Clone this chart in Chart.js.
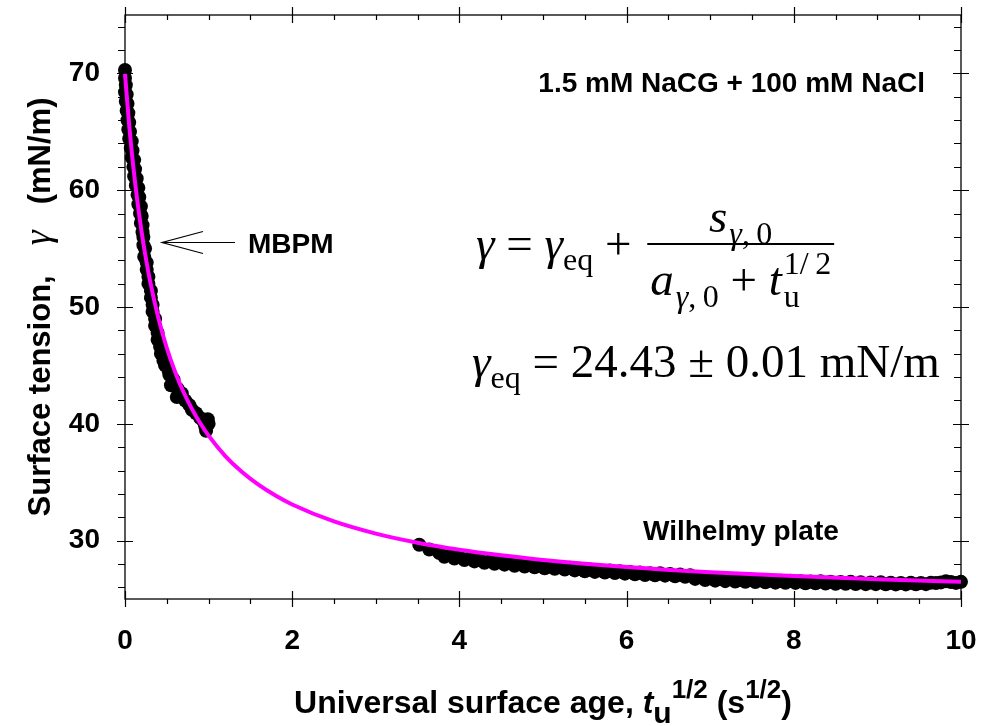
<!DOCTYPE html>
<html>
<head>
<meta charset="utf-8">
<script src="https://cdn.jsdelivr.net/npm/chart.js@4.4.1/dist/chart.umd.min.js"></script>
<style>
  html, body { margin: 0; padding: 0; background: #fff; }
  canvas { display: block; }
</style>
</head>
<body>
<canvas id="chart" width="992" height="726"></canvas>
<script>
// Axis ranges and tick labels
const X_MIN = 0, X_MAX = 10, X_MINOR = 0.5;
const Y_MIN = 25, Y_MAX = 75, Y_MINOR = 2;
const X_TICKS = [0, 2, 4, 6, 8, 10];
const Y_TICKS = [30, 40, 50, 60, 70];

// Maximum bubble pressure method (short ages)
const MBPM_X = [0.00, 0.00, 0.01, 0.00, 0.02, 0.01, 0.03, 0.02, 0.04, 0.03, 0.05, 0.04, 0.06,
  0.05, 0.08, 0.07, 0.09, 0.08, 0.11, 0.10, 0.12, 0.11, 0.14, 0.13, 0.16, 0.15, 0.17, 0.16, 0.19,
  0.18, 0.20, 0.19, 0.21, 0.21, 0.22, 0.22, 0.24, 0.23, 0.26, 0.26, 0.28, 0.28, 0.31, 0.31, 0.33,
  0.33, 0.36, 0.36, 0.39, 0.39, 0.42, 0.43, 0.46, 0.48, 0.52, 0.53, 0.58, 0.55, 0.63, 0.68, 0.62,
  0.72, 0.77, 0.80, 0.85, 0.90, 0.94, 0.96, 0.97, 0.99, 1.00];
const MBPM_Y = [70.3, 69.6, 69.0, 68.4, 68.2, 67.6, 67.4, 66.8, 66.6, 66.0, 65.8, 65.2, 65.0,
  64.4, 64.2, 63.6, 63.4, 62.8, 62.6, 62.0, 61.8, 61.2, 61.0, 60.4, 60.2, 59.6, 59.4, 58.8, 58.6,
  58.0, 57.8, 57.2, 57.0, 56.4, 56.0, 55.3, 55.0, 54.3, 53.8, 53.2, 52.6, 52.0, 51.4, 50.8, 50.2,
  49.6, 49.0, 48.4, 47.8, 47.2, 46.6, 46.0, 45.4, 45.0, 44.6, 44.2, 43.8, 43.3, 43.0, 42.6, 42.3,
  42.0, 41.6, 41.2, 40.9, 40.5, 40.2, 39.8, 39.4, 40.4, 40.0];

// Wilhelmy plate (long ages)
const WILHELMY_X = [3.52, 3.64, 3.76, 3.88, 4.00, 4.12, 4.24, 4.36, 4.48, 4.60, 4.72, 4.84, 4.96,
  5.08, 5.20, 5.32, 5.44, 5.56, 5.68, 5.80, 5.92, 6.04, 6.16, 6.28, 6.40, 6.52, 6.64, 6.76, 6.88,
  7.00, 7.12, 7.24, 7.36, 7.48, 7.60, 7.72, 7.84, 7.96, 8.08, 8.20, 8.32, 8.44, 8.56, 8.68, 8.80,
  8.92, 9.04, 9.16, 9.28, 9.40, 9.52, 9.64, 9.70, 9.76, 9.82, 9.88, 9.94, 10.00,
  3.82, 3.94, 4.06, 4.18, 4.30, 4.42, 4.54, 4.66, 4.78, 4.90, 5.02, 5.14, 5.26, 5.38, 5.50, 5.62,
  5.74, 5.86, 5.98, 6.10, 6.22, 6.34, 6.46, 6.58, 6.70, 6.82, 6.94, 7.06, 7.18, 7.30, 7.42, 7.54,
  7.66, 7.78, 7.90, 8.02, 8.14, 8.26, 8.38, 8.50, 8.62, 8.74, 8.86, 8.98, 9.10, 9.22, 9.34, 9.46,
  9.58];
const WILHELMY_Y = [29.64, 29.24, 28.94, 28.75, 28.62, 28.49, 28.37, 28.26, 28.20, 28.10, 28.00,
  27.96, 27.87, 27.79, 27.75, 27.68, 27.60, 27.53, 27.46, 27.44, 27.38, 27.32, 27.26, 27.20, 27.20,
  27.14, 27.09, 27.04, 26.89, 26.80, 26.75, 26.71, 26.66, 26.67, 26.63, 26.59, 26.56, 26.57, 26.53,
  26.50, 26.51, 26.48, 26.45, 26.47, 26.44, 26.41, 26.43, 26.40, 26.38, 26.40, 26.38, 26.40, 26.36,
  26.42, 26.52, 26.45, 26.38, 26.47,
  28.62, 28.47, 28.33, 28.22, 28.10, 28.02, 27.94, 27.85, 27.78, 27.71, 27.63, 27.58, 27.52, 27.45,
  27.38, 27.32, 27.27, 27.23, 27.17, 27.12, 27.06, 27.03, 27.00, 26.95, 26.90, 26.72, 26.62, 26.57,
  26.53, 26.49, 26.47, 26.46, 26.43, 26.40, 26.39, 26.38, 26.35, 26.34, 26.33, 26.30, 26.30, 26.29,
  26.27, 26.27, 26.26, 26.25, 26.25, 26.26, 26.27];

// Fitted curve gamma(t_u^1/2)
const FIT_X = [0, 0.05, 0.1, 0.15, 0.2, 0.25, 0.3, 0.4, 0.5, 0.6, 0.7, 0.8, 0.9, 1.0, 1.2, 1.4,
  1.6, 1.8, 2.0, 2.5, 3.0, 3.5, 4.0, 4.5, 5.0, 6.0, 7.0, 8.0, 9.0, 10.0];
const FIT_Y = [69.96, 65.58, 61.97, 58.95, 56.37, 54.15, 52.22, 49.03, 46.49, 44.43, 42.72, 41.28,
  40.05, 38.99, 37.24, 35.87, 34.77, 33.86, 33.09, 31.64, 30.60, 29.82, 29.22, 28.74, 28.34, 27.74,
  27.29, 26.96, 26.69, 26.47];

const SANS = "'Liberation Sans', Arial, Helvetica, sans-serif";
const SERIF = "'Liberation Serif', 'Times New Roman', Times, serif";

const zip = (xs, ys) => xs.map((x, i) => ({ x, y: ys[i] }));

// Draws a sequence of text pieces, each with its own font and vertical shift
function drawRuns(ctx, runs, x, y, measureOnly) {
  let cx = x;
  for (const r of runs) {
    ctx.font = r.font;
    if (r.gap) { cx += r.gap; continue; }
    if (!measureOnly) ctx.fillText(r.text, cx, y + (r.dy || 0));
    cx += ctx.measureText(r.text).width;
  }
  return cx - x;
}

const whiteBackground = {
  id: 'whiteBackground',
  beforeDraw(chart) {
    const { ctx, width, height } = chart;
    ctx.save();
    ctx.fillStyle = '#fff';
    ctx.fillRect(0, 0, width, height);
    ctx.restore();
  }
};

// Box frame with major ticks crossing the axes and minor ticks
const frameAndTicks = {
  id: 'frameAndTicks',
  beforeDatasetsDraw(chart) {
    const { ctx, chartArea: a, scales: { x, y } } = chart;
    ctx.save();
    ctx.strokeStyle = '#000';
    ctx.lineWidth = 1.3;
    ctx.strokeRect(a.left, a.top, a.right - a.left, a.bottom - a.top);
    ctx.lineWidth = 1.2;
    ctx.beginPath();
    const nx = Math.round((X_MAX - X_MIN) / X_MINOR);
    for (let k = 0; k <= nx; k++) {
      const v = X_MIN + k * X_MINOR;
      const px = Math.round(x.getPixelForValue(v)) + 0.5;
      const major = X_TICKS.some(t => Math.abs(t - v) < 1e-9);
      if (major) {
        ctx.moveTo(px, a.bottom - 8); ctx.lineTo(px, a.bottom + 8);
        ctx.moveTo(px, a.top - 8); ctx.lineTo(px, a.top + 8);
      } else {
        ctx.moveTo(px, a.bottom); ctx.lineTo(px, a.bottom + 5);
        ctx.moveTo(px, a.top); ctx.lineTo(px, a.top + 5);
      }
    }
    for (let v = Y_MIN + 1; v < Y_MAX; v += Y_MINOR) {
      if (Y_TICKS.includes(v)) continue;
      const py = Math.round(y.getPixelForValue(v)) + 0.5;
      ctx.moveTo(a.left - 7, py); ctx.lineTo(a.left, py);
      ctx.moveTo(a.right - 7, py); ctx.lineTo(a.right, py);
    }
    for (const v of Y_TICKS) {
      const py = Math.round(y.getPixelForValue(v)) + 0.5;
      ctx.moveTo(a.left - 8, py); ctx.lineTo(a.left + 8, py);
      ctx.moveTo(a.right - 8, py); ctx.lineTo(a.right + 8, py);
    }
    ctx.stroke();
    ctx.restore();
  }
};

// Axis titles, annotations and the fitted equation
const annotations = {
  id: 'annotations',
  afterDraw(chart) {
    const { ctx, chartArea: a } = chart;
    ctx.save();
    ctx.fillStyle = '#000';
    ctx.textBaseline = 'alphabetic';
    ctx.textAlign = 'left';

    // x-axis title
    const xt = [
      { text: 'Universal surface age, ', font: `bold 32px ${SANS}` },
      { text: 't', font: `italic bold 32px ${SANS}` },
      { text: 'u', font: `bold 30px ${SANS}`, dy: 10 },
      { text: '1/2', font: `bold 26px ${SANS}`, dy: -15 },
      { text: ' (s', font: `bold 32px ${SANS}` },
      { text: '1/2', font: `bold 26px ${SANS}`, dy: -15 },
      { text: ')', font: `bold 32px ${SANS}` }
    ];
    const xcx = (a.left + a.right) / 2;
    const xw = drawRuns(ctx, xt, 0, 0, true);
    drawRuns(ctx, xt, xcx - xw / 2, 713);

    // y-axis title (rotated)
    const yt = [
      { text: 'Surface tension,', font: `bold 31px ${SANS}` },
      { gap: 30, font: `bold 31px ${SANS}` },
      { text: 'γ', font: `italic 38px ${SERIF}` },
      { gap: 26, font: `bold 31px ${SANS}` },
      { text: '(mN/m)', font: `bold 31px ${SANS}` }
    ];
    const ycy = (a.top + a.bottom) / 2;
    const yw = drawRuns(ctx, yt, 0, 0, true);
    ctx.save();
    ctx.translate(50, ycy);
    ctx.rotate(-Math.PI / 2);
    drawRuns(ctx, yt, -yw / 2, 0);
    ctx.restore();

    // Annotations
    ctx.font = `bold 28px ${SANS}`;
    ctx.textAlign = 'right';
    ctx.fillText('1.5 mM NaCG + 100 mM NaCl', 925, 92);
    ctx.textAlign = 'left';
    ctx.fillText('MBPM', 248, 253);
    ctx.fillText('Wilhelmy plate', 643, 540);

    // Open arrow pointing at the MBPM data
    ctx.strokeStyle = '#000';
    ctx.lineWidth = 1.2;
    ctx.beginPath();
    ctx.moveTo(235, 242.5); ctx.lineTo(162, 242.5);
    ctx.moveTo(203, 231.5); ctx.lineTo(162, 242.5); ctx.lineTo(203, 253.5);
    ctx.stroke();

    // Equation, line 1: gamma = gamma_eq + s/(a + t^1/2)
    const M = 47, S = 32;
    const fMain = `${M}px ${SERIF}`, fIt = `italic ${M}px ${SERIF}`;
    const fSub = `${S}px ${SERIF}`, fSubIt = `italic ${S}px ${SERIF}`;
    const base1 = 259;
    let ex = 476;
    ex += drawRuns(ctx, [
      { text: 'γ', font: fIt },
      { text: ' = ', font: fMain },
      { text: 'γ', font: fIt },
      { text: 'eq', font: fSub, dy: 11 },
      { text: ' + ', font: fMain }
    ], ex, base1);
    const den = [
      { text: 'a', font: fIt },
      { gap: 2, font: fSub },
      { text: 'γ', font: fSubIt, dy: 12 },
      { text: ',\u20090', font: fSub, dy: 12 },
      { text: ' + ', font: fMain },
      { text: 't', font: fIt },
      { gap: 2, font: fSub },
      { text: '1/\u20092', font: fSub, dy: -21 }
    ];
    const num = [
      { text: 's', font: fIt },
      { gap: 2, font: fSub },
      { text: 'γ', font: fSubIt, dy: 12 },
      { text: ',\u20090', font: fSub, dy: 12 }
    ];
    const barX = ex + 4;
    const dw = drawRuns(ctx, den, 0, 0, true);
    const barW = dw + 6;
    const barY = 244;
    ctx.fillRect(barX, barY - 1, barW, 2);
    const nw = drawRuns(ctx, num, 0, 0, true);
    drawRuns(ctx, num, barX + (barW - nw) / 2, barY - 12);
    const denX = barX + 3;
    const denBase = barY + 51;
    drawRuns(ctx, den, denX, denBase);
    // subscript u under the exponent of t
    const preT = drawRuns(ctx, den.slice(0, 7), 0, 0, true);
    ctx.font = fSub;
    ctx.fillText('u', denX + preT, denBase + 12);

    // Equation, line 2: equilibrium value
    drawRuns(ctx, [
      { text: 'γ', font: fIt },
      { text: 'eq', font: fSub, dy: 11 },
      { text: ' = 24.43 ± 0.01 mN/m', font: fMain }
    ], 472, 377);

    ctx.restore();
  }
};

const tickFont = { family: SANS, weight: 'bold', size: 28 };

new Chart(document.getElementById('chart'), {
  type: 'scatter',
  data: {
    datasets: [
      {
        label: 'Fit',
        type: 'line',
        data: zip(FIT_X, FIT_Y),
        borderColor: '#ff00ff',
        borderWidth: 4,
        pointRadius: 0,
        cubicInterpolationMode: 'monotone',
        fill: false,
        clip: false,
        order: 0
      },
      {
        label: 'MBPM',
        data: zip(MBPM_X, MBPM_Y),
        backgroundColor: '#000',
        borderWidth: 0,
        pointRadius: 7,
        clip: false,
        order: 1
      },
      {
        label: 'Wilhelmy plate',
        data: zip(WILHELMY_X, WILHELMY_Y),
        backgroundColor: '#000',
        borderWidth: 0,
        pointRadius: 7,
        clip: false,
        order: 1
      }
    ]
  },
  options: {
    responsive: false,
    animation: false,
    devicePixelRatio: 1,
    layout: { padding: { top: 15, right: 31, left: 0, bottom: 0 } },
    plugins: { legend: { display: false }, tooltip: { enabled: false } },
    scales: {
      x: {
        type: 'linear', min: X_MIN, max: X_MAX,
        grid: { display: false, drawTicks: false },
        border: { display: false },
        afterBuildTicks: s => { s.ticks = X_TICKS.map(v => ({ value: v })); },
        afterFit: s => { s.height = 127; s.paddingLeft = 0; s.paddingRight = 0; },
        ticks: { font: tickFont, color: '#000', padding: 25, maxRotation: 0, autoSkip: false }
      },
      y: {
        type: 'linear', min: Y_MIN, max: Y_MAX,
        grid: { display: false, drawTicks: false },
        border: { display: false },
        afterBuildTicks: s => { s.ticks = Y_TICKS.map(v => ({ value: v })); },
        afterFit: s => { s.width = 125; s.paddingTop = 0; s.paddingBottom = 0; },
        ticks: { font: tickFont, color: '#000', padding: 25, autoSkip: false }
      }
    }
  },
  plugins: [whiteBackground, frameAndTicks, annotations]
});
</script>
</body>
</html>
